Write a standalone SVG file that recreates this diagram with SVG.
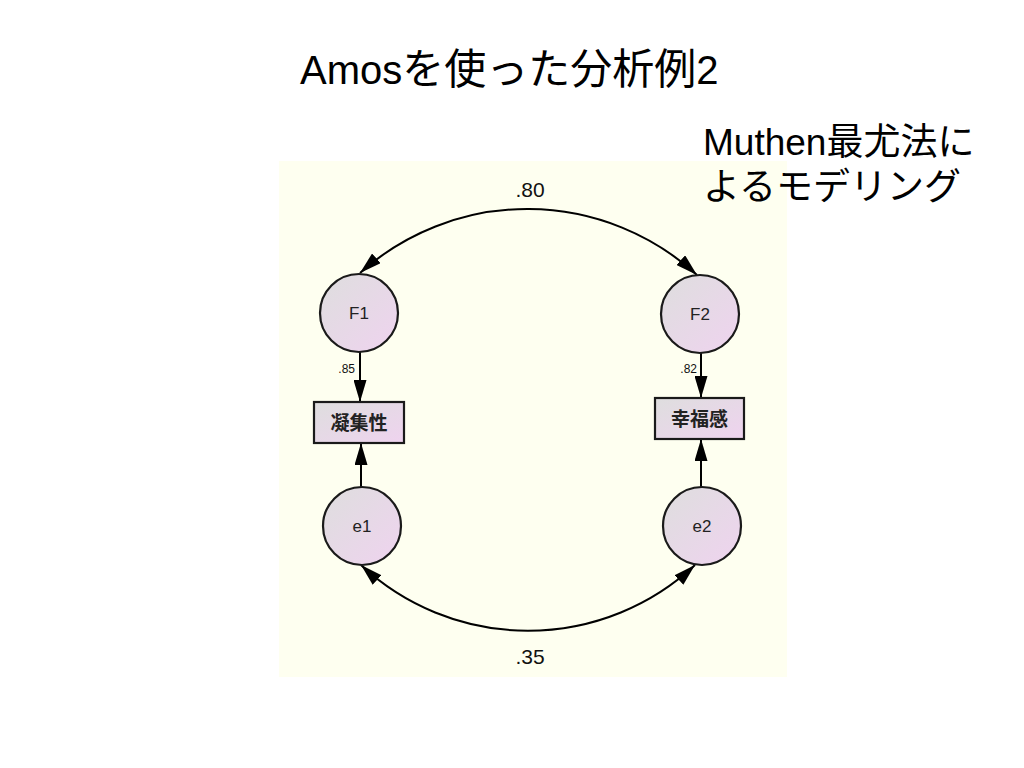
<svg xmlns="http://www.w3.org/2000/svg" width="1024" height="768" viewBox="0 0 1024 768">
  <defs>
    <linearGradient id="nodeFill" x1="0" y1="0" x2="1" y2="1">
      <stop offset="0" stop-color="#dedede"/>
      <stop offset="1" stop-color="#efd3ef"/>
    </linearGradient>
    <marker id="arr" markerUnits="userSpaceOnUse" viewBox="0 0 22 13" refX="22" refY="6.5" markerWidth="22" markerHeight="13" orient="auto-start-reverse">
      <path d="M0,0 L22,6.5 L0,13 z" fill="#000"/>
    </marker>
    <style>
      .title { font-family: "Liberation Sans", "Noto Sans CJK JP", sans-serif; fill: #000; }
      .node circle, .node rect { fill: url(#nodeFill); stroke: #1a1a1a; stroke-width: 2.2; }
      .lbl { font-family: "Liberation Sans", Arial, sans-serif; fill: #222; text-anchor: middle; }
      .jlbl { font-family: "Noto Sans CJK JP", sans-serif; fill: #222; text-anchor: middle; font-weight: bold; }
      .conn path, .conn line { fill: none; stroke: #000; stroke-width: 2; }
      .coef { font-family: "Liberation Sans", Arial, sans-serif; fill: #111; }
    </style>
  </defs>

  <rect x="0" y="0" width="1024" height="768" fill="#ffffff"/>
  <rect x="279" y="161" width="508" height="516" fill="#fefff0"/>

  <text class="title" x="300" y="84" font-size="40">Amos<tspan font-size="42">を使った分析例</tspan>2</text>
  <text class="title" x="703" y="155" font-size="37">Muthen最尤法に</text>
  <text class="title" x="703" y="200" font-size="37">よるモデリング</text>

  <g id="connectors" class="conn">
    <path id="cov-F1-F2" d="M360,273 A251,251 0 0 1 697,275" marker-start="url(#arr)" marker-end="url(#arr)"/>
    <path id="cov-e1-e2" d="M361,565 A245,245 0 0 0 695,565" marker-start="url(#arr)" marker-end="url(#arr)"/>
    <line id="F1-to-gyoushu" x1="360" y1="352" x2="360" y2="402" marker-end="url(#arr)"/>
    <line id="F2-to-koufuku" x1="701" y1="353" x2="701" y2="398" marker-end="url(#arr)"/>
    <line id="e1-to-gyoushu" x1="361" y1="487" x2="361" y2="443" marker-end="url(#arr)"/>
    <line id="e2-to-koufuku" x1="701" y1="487" x2="701" y2="439" marker-end="url(#arr)"/>
  </g>

  <g id="labels">
    <text class="coef" x="530" y="197" font-size="21" text-anchor="middle">.80</text>
    <text class="coef" x="530" y="664" font-size="21" text-anchor="middle">.35</text>
    <text class="coef" x="355" y="373" font-size="12" text-anchor="end">.85</text>
    <text class="coef" x="697" y="373" font-size="12" text-anchor="end">.82</text>
  </g>

  <g id="F1" class="node">
    <circle cx="359" cy="313" r="39"/>
    <text class="lbl" x="359" y="319" font-size="17">F1</text>
  </g>
  <g id="F2" class="node">
    <circle cx="700" cy="314" r="39"/>
    <text class="lbl" x="700" y="320" font-size="17">F2</text>
  </g>
  <g id="gyoushusei" class="node">
    <rect x="314" y="402" width="90" height="41"/>
    <text class="jlbl" x="359" y="430" font-size="19">凝集性</text>
  </g>
  <g id="koufukukan" class="node">
    <rect x="655" y="398" width="89" height="41"/>
    <text class="jlbl" x="699.5" y="426" font-size="19">幸福感</text>
  </g>
  <g id="e1" class="node">
    <circle cx="362" cy="526" r="39"/>
    <text class="lbl" x="362" y="532" font-size="17">e1</text>
  </g>
  <g id="e2" class="node">
    <circle cx="702" cy="526" r="39"/>
    <text class="lbl" x="702" y="532" font-size="17">e2</text>
  </g>
</svg>
